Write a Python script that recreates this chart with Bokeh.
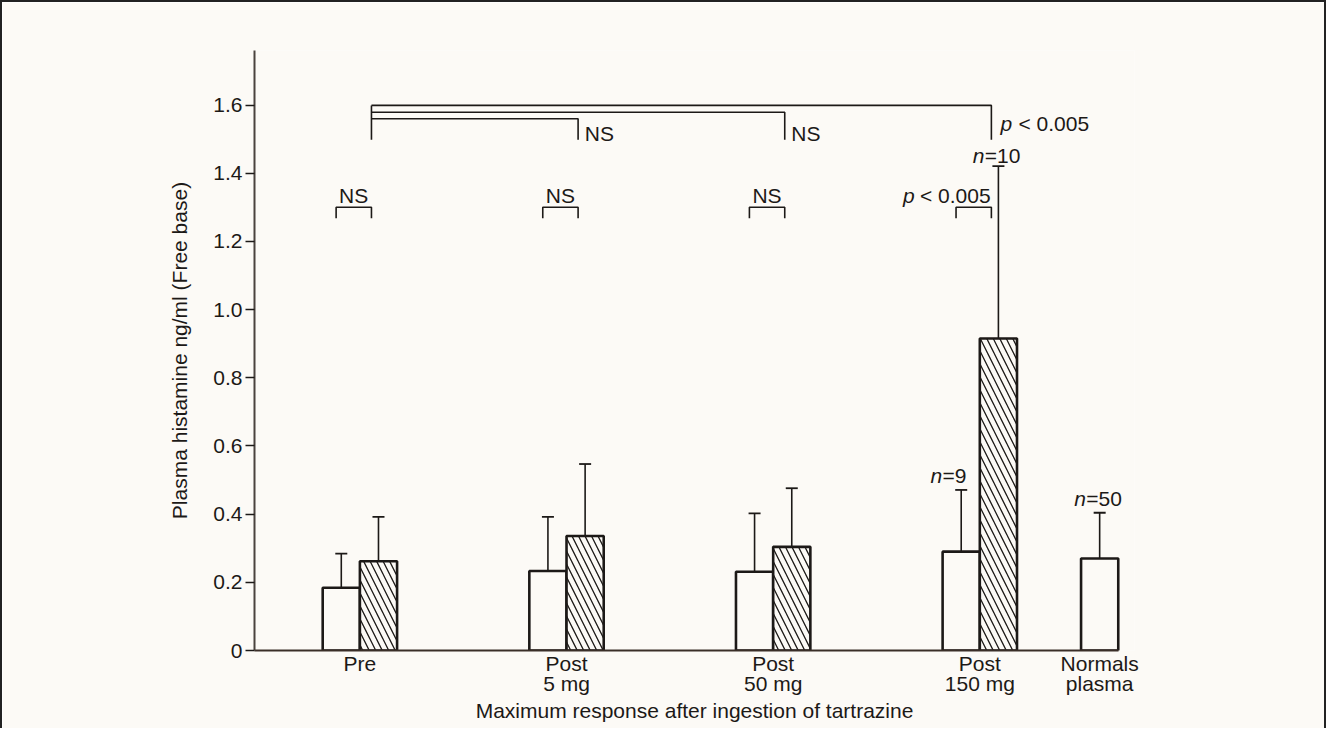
from bokeh.plotting import figure
from bokeh.models import Range1d, FixedTicker, ColumnDataSource, Whisker, TeeHead, Label
from bokeh.embed import file_html
from bokeh.resources import INLINE

# ---------------- data ----------------
categories = ["Pre", "Post\n5 mg", "Post\n50 mg", "Post\n150 mg", "Normals\nplasma"]
before_mean = [0.184, 0.233, 0.231, 0.290, 0.270]      # open bars (last = normals)
before_err = [0.100, 0.159, 0.171, 0.181, 0.134]
after_mean = [0.262, 0.336, 0.304, 0.915]               # hatched bars
after_err = [0.130, 0.211, 0.172, 0.506]
y_ticks = [0, 0.2, 0.4, 0.6, 0.8, 1.0, 1.2, 1.4, 1.6]
y_tick_labels = ["0", "0.2", "0.4", "0.6", "0.8", "1.0", "1.2", "1.4", "1.6"]
pair_labels = ["NS", "NS", "NS", "p < 0.005"]
vs_pre_labels = ["NS", "NS", "p < 0.005"]
n_labels = ["10", "9", "50"]

# ---------------- layout constants ----------------
GROUP_POS = [0, 1, 2, 3, 3.58]
BW = 0.18
X_START, X_AXIS_END, X_END = -0.51, 3.67, 3.7486
BG = "#fcfaf6"
INK = "#1c1917"
FONT = "Liberation Sans"
FS = "21px"

p = figure(width=1326, height=728, output_backend="svg", toolbar_location=None,
           x_range=Range1d(X_START, X_END), y_range=Range1d(0, 1.76),
           min_border_left=252, min_border_right=194, min_border_top=48, min_border_bottom=80,
           background_fill_color=BG, border_fill_color=BG)
p.styles = {"border-left": "2px solid #222", "border-top": "2px solid #222",
            "border-right": "2px solid #222"}
p.outline_line_color = None
p.grid.visible = False

# y axis
ya = p.yaxis[0]
ya.ticker = FixedTicker(ticks=y_ticks)
ya.major_label_overrides = {t: l for t, l in zip(y_ticks, y_tick_labels)}
ya.minor_tick_line_color = None
ya.major_tick_in = 0
ya.major_tick_out = 9
ya.major_tick_line_width = 1.5
ya.major_tick_line_color = INK
ya.axis_line_color = "#4a433e"
ya.axis_line_width = 2
ya.major_label_standoff = 3
ya.axis_label = "Plasma histamine ng/ml (Free base)"
ya.axis_label_standoff = 19

# x axis
xa = p.xaxis[0]
xa.bounds = (X_START, X_AXIS_END)
xa.ticker = FixedTicker(ticks=GROUP_POS)
xa.major_label_overrides = {t: l for t, l in zip(GROUP_POS, categories)}
xa.minor_tick_line_color = None
xa.major_tick_line_color = None
xa.major_tick_in = 0
xa.major_tick_out = 0
xa.axis_line_color = "#3a2e28"
xa.axis_line_width = 2
xa.major_label_standoff = 1
xa.major_label_text_line_height = 0.9
xa.axis_label = "Maximum response after ingestion of tartrazine"
xa.axis_label_standoff = 1

for ax in (xa, ya):
    ax.major_label_text_font = FONT
    ax.major_label_text_font_size = FS
    ax.major_label_text_color = INK
    ax.axis_label_text_font = FONT
    ax.axis_label_text_font_size = FS
    ax.axis_label_text_font_style = "normal"
    ax.axis_label_text_color = INK

# bars
open_x = [g - BW / 2 for g in GROUP_POS[:4]] + [GROUP_POS[4]]
hatch_x = [g + BW / 2 for g in GROUP_POS[:4]]
src_open = ColumnDataSource(dict(x=open_x, top=before_mean,
                                 upper=[m + e for m, e in zip(before_mean, before_err)]))
src_hatch = ColumnDataSource(dict(x=hatch_x, top=after_mean,
                                  upper=[m + e for m, e in zip(after_mean, after_err)]))

for src in (src_open, src_hatch):
    p.add_layout(Whisker(source=src, base="x", lower="top", upper="upper", dimension="height",
                         line_color=INK, line_width=1.6, lower_head=None,
                         upper_head=TeeHead(size=12, line_color=INK, line_width=1.8)))

p.vbar(x="x", top="top", width=BW, bottom=0, source=src_open,
       fill_color=BG, line_color=INK, line_width=2.6)
p.vbar(x="x", top="top", width=BW, bottom=0, source=src_hatch,
       fill_color=BG, line_color=INK, line_width=2.6,
       hatch_pattern="\\", hatch_color=INK, hatch_scale=13, hatch_weight=1.3)

# ---- significance annotations ----
R = 0.056   # right-hand anchor offset of brackets
L = -0.115  # left-hand anchor offset of small brackets
small_top, small_bot = 1.300, 1.268
for g in GROUP_POS[:4]:
    p.line([g + L, g + L, g + R, g + R], [small_bot, small_top, small_top, small_bot],
           line_color=INK, line_width=1.6)

top_levels = [1.560, 1.579, 1.599]
top_bottom = 1.498
for g, lev in zip(GROUP_POS[1:4], top_levels):
    p.line([GROUP_POS[0] + R, g + R, g + R], [lev, lev, top_bottom],
           line_color=INK, line_width=1.6)
p.line([GROUP_POS[0] + R, GROUP_POS[0] + R], [top_levels[2], top_bottom],
       line_color=INK, line_width=1.6)

def txt(x, y, s, align="left", style="normal", xo=0):
    p.add_layout(Label(x=x, y=y, text=s, text_font=FONT, text_font_size=FS,
                       text_color=INK, text_align=align, text_baseline="middle",
                       text_font_style=style, x_offset=xo))

# NS above pairs
for g, lab in zip(GROUP_POS[:3], pair_labels[:3]):
    txt(g - 0.03, 1.336, lab, align="center")
# p < 0.005 for 150 mg pair
txt(2.628, 1.336, "p", style="italic")
txt(2.628, 1.336, "< 0.005", xo=17)

# vs pre labels
txt(GROUP_POS[1] + R + 0.032, 1.518, vs_pre_labels[0])
txt(GROUP_POS[2] + R + 0.032, 1.518, vs_pre_labels[1])
txt(GROUP_POS[3] + R + 0.044, 1.545, "p", style="italic")
txt(GROUP_POS[3] + R + 0.044, 1.545, "< 0.005", xo=18)

# n labels
n_pos = [(2.966, 1.452), (2.761, 0.513), (3.457, 0.447)]
for (x, y), lab in zip(n_pos, n_labels):
    txt(x, y, "n", style="italic")
    txt(x, y, "=" + lab, xo=12)

open("out.html", "w").write(file_html(p, INLINE))
